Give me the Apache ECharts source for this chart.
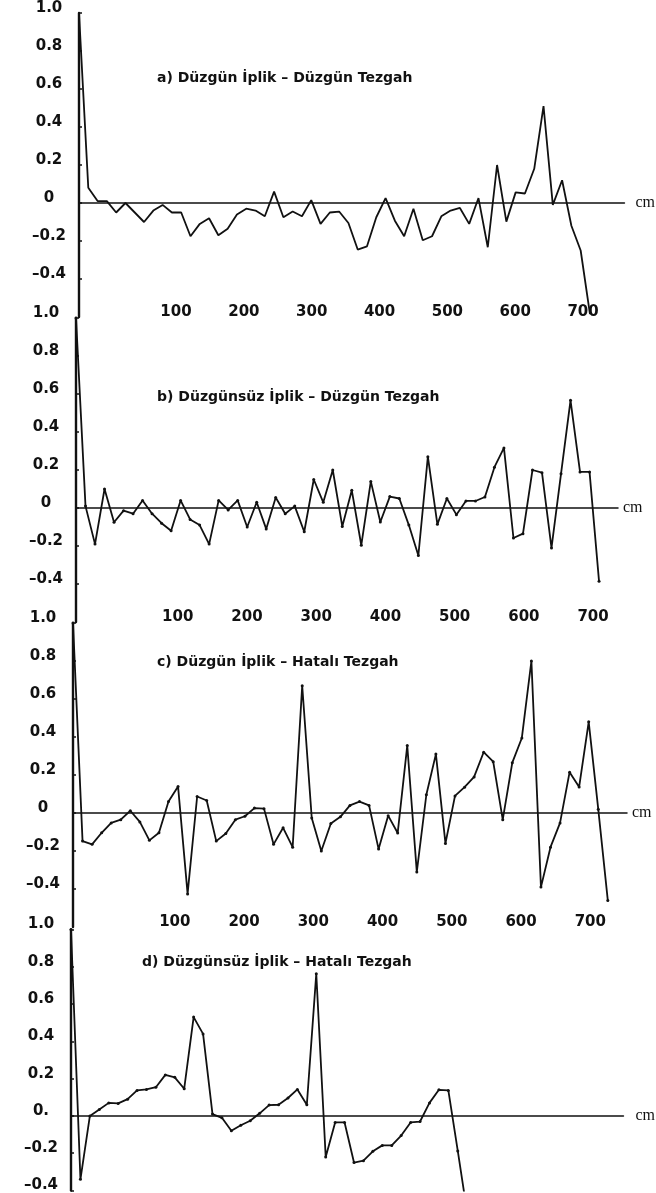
<!DOCTYPE html>
<html>
<head>
<meta charset="utf-8">
<script src="https://cdn.jsdelivr.net/npm/echarts@6/dist/echarts.min.js"></script>
<style>
  html, body { margin: 0; padding: 0; background: #fff; }
  #chart { width: 656px; height: 1193px; }
</style>
</head>
<body>
<div id="chart"></div>
<script>
// autocorrelation values, one per lag step
const valuesA = [1.0, 0.08, 0.01, 0.01, -0.05, 0.0, -0.05, -0.1, -0.04, -0.01, -0.05, -0.05, -0.175, -0.11, -0.08,
  -0.17, -0.135, -0.06, -0.03, -0.04, -0.07, 0.06, -0.075, -0.045, -0.07, 0.015, -0.11, -0.05, -0.045, -0.105,
  -0.245, -0.228, -0.075, 0.026, -0.093, -0.175, -0.03, -0.196, -0.175, -0.07, -0.04, -0.026, -0.11, 0.026,
  -0.233, 0.2, -0.098, 0.056, 0.05, 0.18, 0.51, -0.01, 0.12, -0.12, -0.25, -0.585];
const valuesB = [1.0, 0.01, -0.19, 0.1, -0.075, -0.014, -0.03, 0.04, -0.03, -0.08, -0.12, 0.04, -0.06, -0.09, -0.19,
  0.04, -0.01, 0.04, -0.1, 0.03, -0.11, 0.055, -0.03, 0.01, -0.125, 0.15, 0.03, 0.2, -0.097, 0.093, -0.196, 0.14,
  -0.074, 0.06, 0.05, -0.09, -0.25, 0.27, -0.086, 0.05, -0.035, 0.037, 0.037, 0.058, 0.215, 0.316, -0.158, -0.135,
  0.2, 0.186, -0.21, 0.18, 0.567, 0.19, 0.19, -0.386];
const valuesC = [1.0, -0.148, -0.165, -0.104, -0.052, -0.035, 0.012, -0.047, -0.144, -0.104, 0.06, 0.14, -0.426,
  0.087, 0.066, -0.148, -0.108, -0.035, -0.017, 0.026, 0.023, -0.165, -0.078, -0.18, 0.67, -0.026, -0.2, -0.055,
  -0.02, 0.04, 0.06, 0.04, -0.19, -0.014, -0.105, 0.355, -0.31, 0.096, 0.31, -0.16, 0.09, 0.136, 0.19, 0.32, 0.27,
  -0.035, 0.265, 0.395, 0.8, -0.39, -0.18, -0.052, 0.215, 0.137, 0.48, 0.02, -0.46];
const valuesD = [1.0, -0.34, 0.0, 0.035, 0.07, 0.067, 0.09, 0.137, 0.142, 0.154, 0.22, 0.207, 0.146, 0.53, 0.44,
  0.01, -0.01, -0.08, -0.05, -0.026, 0.014, 0.058, 0.06, 0.096, 0.142, 0.06, 0.763, -0.22, -0.035, -0.035, -0.25,
  -0.24, -0.19, -0.158, -0.158, -0.105, -0.035, -0.03, 0.07, 0.14, 0.137, -0.188, -0.52];

const titles = [
  'a) Düzgün İplik – Düzgün Tezgah',
  'b) Düzgünsüz İplik – Düzgün Tezgah',
  'c) Düzgün İplik – Hatalı Tezgah',
  'd) Düzgünsüz İplik – Hatalı Tezgah'
];

const yTicks = [1.0, 0.8, 0.6, 0.4, 0.2, 0, -0.2, -0.4];
const yTickText = ['1.0', '0.8', '0.6', '0.4', '0.2', '0', '–0.2', '–0.4'];
const yTickTextD = ['1.0', '0.8', '0.6', '0.4', '0.2', '0.', '–0.2', '–0.4'];
const xTicks = [100, 200, 300, 400, 500, 600, 700];
const xUnit = 'cm';

// layout of each panel on the page (scan is slightly rotated, so edges shift a little)
const panels = [
  { values: valuesA, yText: yTickText, left: 79, right: 635, zero: 203, px: 38, yMin: -0.6, step: 9.47, cmMin: -43, cmMax: 761, labels: true, dots: false, nameGap: 11, tx: 157, ty: 71 },
  { values: valuesB, yText: yTickText, left: 76, right: 618, zero: 508, px: 38, yMin: -0.6, step: 9.51, cmMin: -47, cmMax: 736, labels: true, dots: true, nameGap: 5, tx: 157, ty: 390 },
  { values: valuesC, yText: yTickText, left: 73, right: 627, zero: 813, px: 38, yMin: -0.6, step: 9.55, cmMin: -47, cmMax: 753, labels: true, dots: true, nameGap: 5, tx: 157, ty: 655 },
  { values: valuesD, yText: yTickTextD, left: 71, right: 625, zero: 1118, px: 37.7, yMin: -0.4, step: 9.46, cmMin: -47, cmMax: 753, labels: false, dots: true, nameGap: 12, tx: 142, ty: 955 }
];

const ink = '#111';
const numFont = { fontFamily: 'DejaVu Sans', fontWeight: 'bold', fontSize: 15, color: ink };

const grid = [], xAxis = [], yAxis = [], series = [], title = [];

panels.forEach((p, i) => {
  const top = p.zero - 5 * p.px;
  const steps = Math.round((1.0 - p.yMin) / 0.2);
  grid.push({ left: p.left, top: top, width: p.right - p.left, height: Math.min(steps * p.px, 1193 - top) });

  // lag axis: carries the data and draws the zero line with the unit
  xAxis.push({
    gridIndex: i, type: 'value', position: 'top',
    min: 0, max: (p.right - p.left) / p.step,
    axisLine: { onZero: true, lineStyle: { color: ink, width: 1.5 } },
    axisTick: { show: false }, axisLabel: { show: false }, splitLine: { show: false },
    name: xUnit, nameLocation: 'end', nameGap: p.nameGap,
    nameTextStyle: { fontFamily: 'Liberation Serif', fontSize: 16, color: ink, verticalAlign: 'middle' }
  });
  // cm label row under the panel
  xAxis.push({
    gridIndex: i, type: 'value', position: 'bottom',
    min: p.cmMin, max: p.cmMax,
    axisLine: { show: false, onZero: false }, axisTick: { show: false }, splitLine: { show: false },
    axisLabel: Object.assign({ show: p.labels, customValues: xTicks, margin: -5, verticalAlign: 'middle' }, numFont)
  });

  yAxis.push({
    gridIndex: i, type: 'value', min: p.yMin, max: 1.0, interval: 0.2,
    axisLine: { show: true, lineStyle: { color: ink, width: 2.4 } },
    axisTick: { show: true, inside: true, length: 3, customValues: yTicks, lineStyle: { color: ink, width: 1.5 } },
    splitLine: { show: false },
    axisLabel: Object.assign({
      customValues: yTicks, align: 'center', margin: 30, verticalAlign: 'bottom', lineHeight: 10,
      formatter: v => {
        const k = yTicks.findIndex(t => Math.abs(t - v) < 1e-6);
        return k < 0 ? '' : p.yText[k];
      }
    }, numFont)
  });

  series.push({
    type: 'line', xAxisIndex: 2 * i, yAxisIndex: i,
    data: p.values.map((v, k) => [k, v]),
    symbol: 'circle', symbolSize: 3, showSymbol: p.dots,
    lineStyle: { color: ink, width: 1.8 }, itemStyle: { color: ink },
    animation: false, silent: true
  });

  title.push({
    text: titles[i], left: p.tx, top: p.ty, padding: 0,
    textStyle: { fontFamily: 'DejaVu Sans', fontWeight: 'bold', fontSize: 14, color: ink }
  });
});

const chart = echarts.init(document.getElementById('chart'), null, { renderer: 'canvas' });
chart.setOption({
  backgroundColor: '#fff',
  animation: false,
  title: title,
  grid: grid,
  xAxis: xAxis,
  yAxis: yAxis,
  series: series
});
</script>
</body>
</html>
